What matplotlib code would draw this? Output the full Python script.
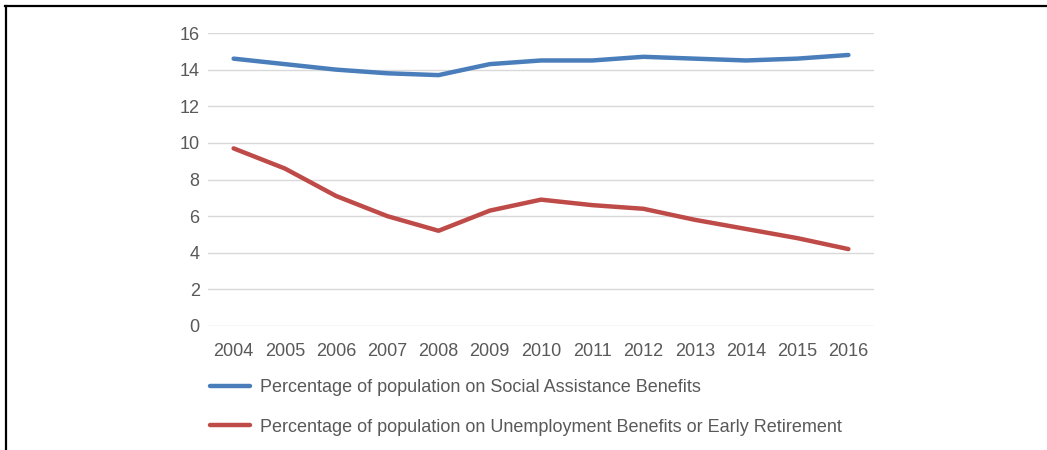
import matplotlib.pyplot as plt
from matplotlib.lines import Line2D

years = [str(y) for y in range(2004, 2017)]
social_assistance = [14.6, 14.3, 14.0, 13.8, 13.7, 14.3, 14.5, 14.5, 14.7, 14.6, 14.5, 14.6, 14.8]
unemployment = [9.7, 8.6, 7.1, 6.0, 5.2, 6.3, 6.9, 6.6, 6.4, 5.8, 5.3, 4.8, 4.2]
labels = ["Percentage of population on Social Assistance Benefits",
          "Percentage of population on Unemployment Benefits or Early Retirement"]

plt.rcParams['font.family'] = ['Liberation Sans', 'DejaVu Sans']
grey = '#595959'

fig = plt.figure(figsize=(10.47, 4.5), dpi=100)
ax = fig.add_axes([208 / 1047, 1 - 326 / 450, (874 - 208) / 1047, (326 - 33) / 450])

x = range(len(years))
ax.plot(x, social_assistance, color='#4A7EBB', lw=3.2, solid_capstyle='round', label=labels[0])
ax.plot(x, unemployment, color='#BE4B48', lw=3.2, solid_capstyle='round', label=labels[1])

ax.set_xlim(-0.5, len(years) - 0.5)
ax.set_ylim(0, 16)
ax.set_yticks(range(0, 17, 2))
ax.set_xticks(list(x))
ax.set_xticklabels(years)
ax.grid(axis='y', color='#D9D9D9', lw=1)
ax.set_axisbelow(True)
for s in ax.spines.values():
    s.set_visible(False)
ax.tick_params(length=0, labelsize=13, labelcolor=grey)
ax.tick_params(axis='y', pad=6)
ax.tick_params(axis='x', pad=12)

fig.legend(loc='upper left', bbox_to_anchor=(210 / 1047, 1 - 379 / 450), frameon=False,
           fontsize=13, handlelength=2.2, handletextpad=0.55, labelspacing=1.25,
           borderpad=0, borderaxespad=0, labelcolor=grey)

# black frame lines (top and left)
fig.add_artist(Line2D([5 / 1047, 1], [1 - 6 / 450, 1 - 6 / 450], color='black', lw=1.6,
                      transform=fig.transFigure))
fig.add_artist(Line2D([6 / 1047, 6 / 1047], [0, 1 - 6 / 450], color='black', lw=1.6,
                      transform=fig.transFigure))

fig.savefig('out.png', dpi=100)
